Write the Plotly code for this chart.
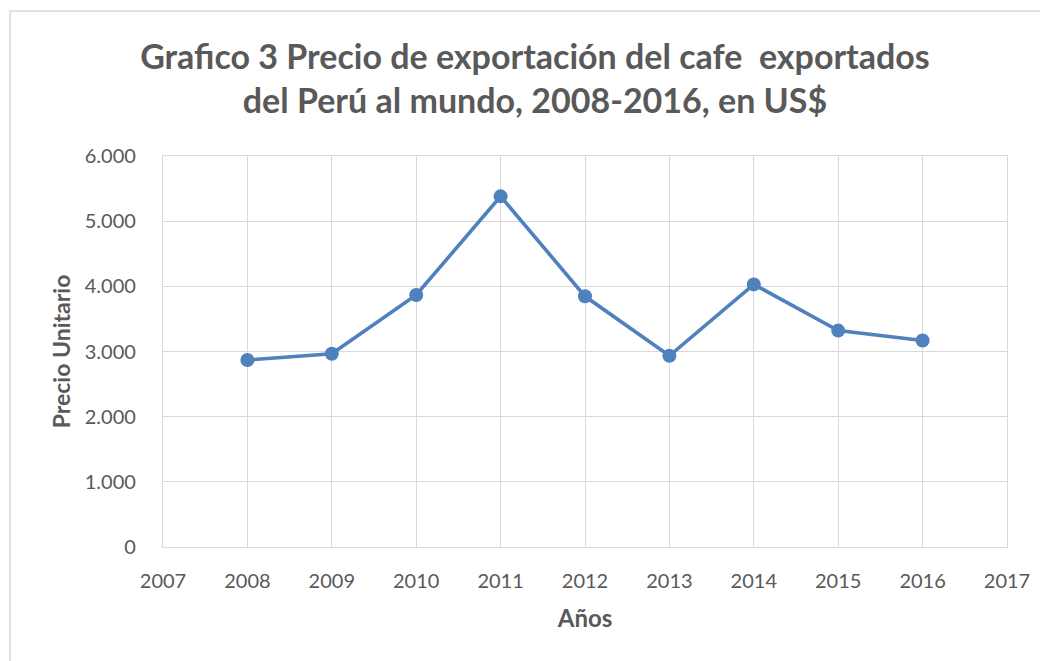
import plotly.graph_objects as go

years = [2008, 2009, 2010, 2011, 2012, 2013, 2014, 2015, 2016]
precio = [2869, 2965, 3867, 5381, 3847, 2934, 4030, 3321, 3168]

# page body has an 8px margin, so the figure is offset by 8px
OFF = 8
W, H = 1048 - OFF, 661 - OFF
L, T = 163 - OFF, 156 - OFF
R = W - (1007 - OFF)
B = H - (547 - OFF)
pw, ph = W - L - R, H - T - B

fig = go.Figure()
fig.add_trace(go.Scatter(
    x=years, y=precio, mode="lines+markers",
    line=dict(color="#4F81BD", width=3.6),
    marker=dict(color="#4F81BD", size=14),
    showlegend=False, cliponaxis=False,
))

font_family = "Lato, 'Open Sans', sans-serif"
fig.update_layout(
    width=W, height=H,
    margin=dict(l=L, r=R, t=T, b=B, autoexpand=False),
    paper_bgcolor="white", plot_bgcolor="white",
    separators=",.",
    font=dict(family=font_family, color="#595959", size=20),
    title=dict(
        text="Grafico 3 Precio de exportación del cafe  exportados<br>del Perú al mundo, 2008-2016, en US$",
        x=(535 - OFF) / W, xanchor="center", xref="container",
        y=1 - (69 - OFF) / H, yanchor="middle",
        font=dict(family=font_family, size=34, color="#595959", weight="bold"),
    ),
    xaxis=dict(
        range=[2007, 2017], dtick=1, tick0=2007, tickformat="d",
        showgrid=True, gridcolor="#D9D9D9", gridwidth=1.3,
        showline=True, linecolor="#D9D9D9", linewidth=1.3, mirror=True,
        zeroline=False, ticks="", ticklabelstandoff=16,
        title=dict(text="<b>Años</b>", font=dict(size=24, color="#595959"), standoff=19),
    ),
    yaxis=dict(
        range=[0, 6000], dtick=1000, tickformat=",d",
        showgrid=True, gridcolor="#D9D9D9", gridwidth=1.3,
        showline=True, linecolor="#D9D9D9", linewidth=1.3, mirror=True,
        zeroline=False, ticks="", ticklabelstandoff=22,
        title=dict(text="<b>Precio Unitario</b>", font=dict(size=23, color="#595959"), standoff=7),
    ),
)

# outer chart border
fig.add_shape(type="rect", xref="paper", yref="paper",
              x0=(10 - OFF - L) / pw, x1=(W + 5 - L) / pw,
              y0=-(B + 5) / ph,
              y1=1 + (T - (11 - OFF)) / ph,
              line=dict(color="#D9D9D9", width=1.5), fillcolor="rgba(0,0,0,0)", layer="below")

fig.write_html("out.html")
